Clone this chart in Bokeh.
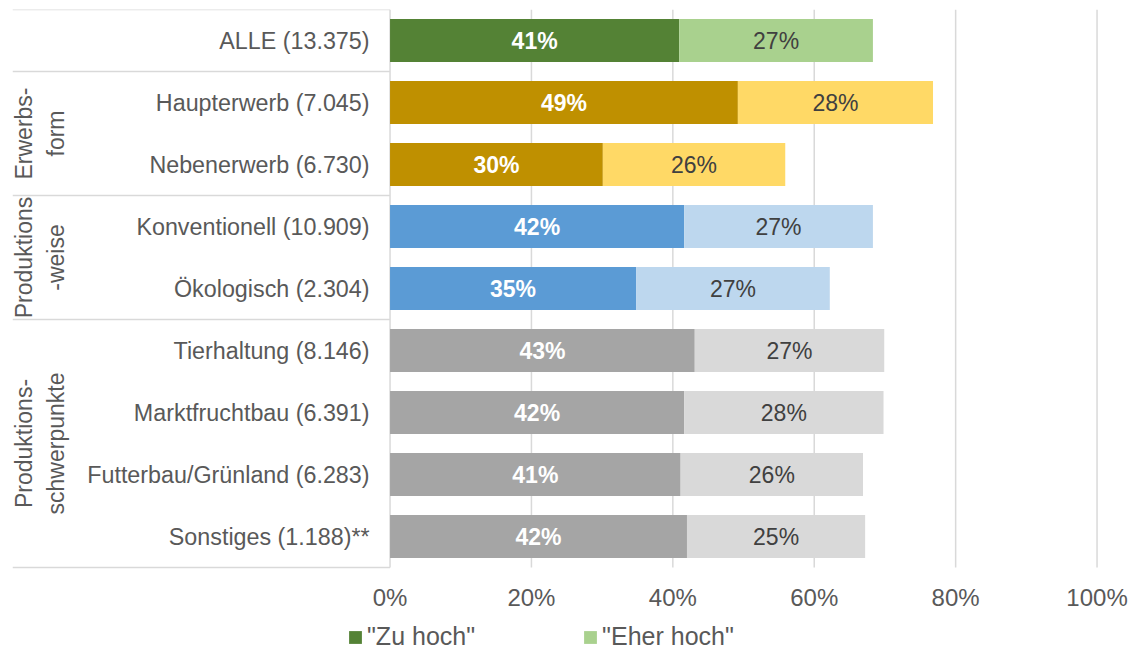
from bokeh.plotting import figure
from bokeh.models import Range1d, ColumnDataSource, Legend, LegendItem
from bokeh.core.properties import value
from bokeh.embed import file_html
from bokeh.resources import INLINE
import math

# ---------------- data ----------------
categories = [
    "ALLE (13.375)",
    "Haupterwerb (7.045)",
    "Nebenerwerb (6.730)",
    "Konventionell (10.909)",
    "Ökologisch (2.304)",
    "Tierhaltung (8.146)",
    "Marktfruchtbau (6.391)",
    "Futterbau/Grünland (6.283)",
    "Sonstiges (1.188)**",
]
zu_hoch = [40.9, 49.2, 30.1, 41.6, 34.8, 43.1, 41.6, 41.1, 42.0]
eher_hoch = [27.4, 27.6, 25.8, 26.7, 27.4, 26.8, 28.2, 25.8, 25.2]

groups = ["", "Erwerbs-\nform", "Produktions\n-weise", "Produktions-\nschwerpunkte"]
group_sizes = [1, 2, 2, 4]

dark_palette = ["#548235", "#BF9000", "#5B9BD5", "#A5A5A5"]
light_palette = ["#A9D18E", "#FFD966", "#BDD7EE", "#D9D9D9"]

ticks = [0, 20, 40, 60, 80, 100]
tick_labels = ["0%", "20%", "40%", "60%", "80%", "100%"]
legend_labels = ['"Zu hoch"', '"Eher hoch"']

# ---------------- styling ----------------
FONT = "Liberation Sans"
TXT = "#595959"
GRID = "#D9D9D9"
FS = "23px"

n = len(categories)
idx = list(range(n))
dark_colors, light_colors = [], []
for g, s in enumerate(group_sizes):
    dark_colors += [dark_palette[g]] * s
    light_colors += [light_palette[g]] * s

src = ColumnDataSource(dict(
    y=idx,
    cat=categories,
    dark=zu_hoch,
    light=eher_hoch,
    total=[a + b for a, b in zip(zu_hoch, eher_hoch)],
    dark_mid=[a / 2 for a in zu_hoch],
    light_mid=[a + b / 2 for a, b in zip(zu_hoch, eher_hoch)],
    dark_lbl=[f"{round(a)}%" for a in zu_hoch],
    light_lbl=[f"{round(b)}%" for b in eher_hoch],
    dcol=dark_colors,
    lcol=light_colors,
))

# layout: each category row is 62 px tall, frame starts 9 px from top
W, H = 1130, 651
TOP, LEFT = 9, 12
row_px = 62
px_per_pct = 7.07
frame_h = H - TOP
y_bottom = -0.5 + frame_h / row_px
x_start = -53.4
x_end = x_start + (W - LEFT) / px_per_pct

p = figure(
    width=W, height=H,
    x_range=Range1d(x_start, x_end),
    y_range=Range1d(y_bottom, -0.5),
    x_axis_location=None, y_axis_location=None,
    toolbar_location=None,
    output_backend="svg",
    min_border_top=TOP, min_border_bottom=0,
    min_border_left=LEFT, min_border_right=0,
)
p.outline_line_color = None
p.background_fill_color = "white"
p.border_fill_color = "white"
p.xgrid.visible = False
p.ygrid.visible = False

# vertical grid lines at the ticks, spanning the category rows
p.segment(x0=ticks, x1=ticks, y0=[-0.5] * len(ticks), y1=[n - 0.5] * len(ticks),
          line_color=GRID, line_width=1.5, level="underlay")

# x tick labels below the rows
p.text(x=ticks, y=[n - 0.02] * len(ticks), text=tick_labels,
       text_align="center", text_baseline="middle",
       text_font=value(FONT), text_font_size="24px", text_color=TXT)

# bars
r_dark = p.hbar(y="y", left=0, right="dark", height=0.69, source=src,
                fill_color="dcol", line_color=None)
r_light = p.hbar(y="y", left="dark", right="total", height=0.69, source=src,
                 fill_color="lcol", line_color=None)

# bar labels
p.text(x="dark_mid", y="y", text="dark_lbl", source=src,
       text_align="center", text_baseline="middle",
       text_font=value(FONT), text_font_size=FS, text_font_style="bold",
       text_color="white")
p.text(x="light_mid", y="y", text="light_lbl", source=src,
       text_align="center", text_baseline="middle",
       text_font=value(FONT), text_font_size=FS, text_color="#404040")

# category labels
p.text(x=-2.9, y="y", text="cat", source=src,
       text_align="right", text_baseline="middle",
       text_font=value(FONT), text_font_size="23.3px", text_color=TXT)

# group structure lines and rotated group labels
bounds = [-0.5]
for s in group_sizes:
    bounds.append(bounds[-1] + s)
p.segment(x0=[x_start] * len(bounds), x1=[0] * len(bounds), y0=bounds, y1=bounds,
          line_color=GRID, line_width=1.5)

g_centers = [(bounds[i] + bounds[i + 1]) / 2 for i in range(len(groups))]
p.text(x=[-49.5] * len(groups), y=g_centers, text=groups, angle=math.pi / 2,
       text_align="center", text_baseline="middle", text_line_height=1.25,
       text_font=value(FONT), text_font_size=FS, text_color=TXT)

legend = Legend(
    items=[LegendItem(label=legend_labels[0], renderers=[r_dark], index=0),
           LegendItem(label=legend_labels[1], renderers=[r_light], index=0)],
    location=(335, 0), orientation="horizontal",
    glyph_width=16, glyph_height=16, label_standoff=4, spacing=107,
    padding=0, margin=0, border_line_color=None, background_fill_alpha=0,
    label_text_font=FONT, label_text_font_size="25px", label_text_color=TXT,
    label_height=20,
)
p.add_layout(legend)

open("out.html", "w").write(file_html(p, INLINE))
